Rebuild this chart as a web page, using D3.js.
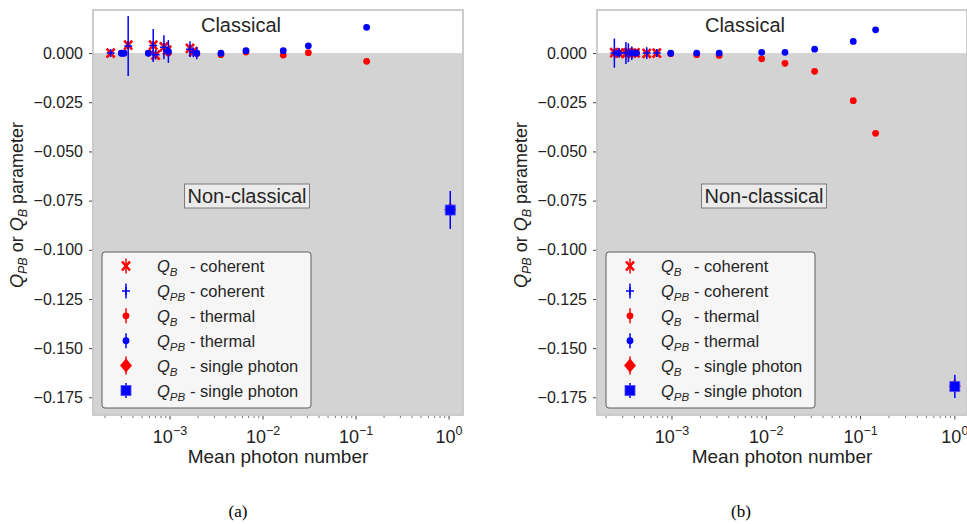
<!DOCTYPE html>
<html>
<head>
<meta charset="utf-8">
<script src="https://cdn.jsdelivr.net/npm/d3@7"></script>
<style>
  body { margin: 0; background: #fff; }
  svg { display: block; }
</style>
</head>
<body>
<script>
// panel (a) data
var cohN_a      = [2.3e-4, 3.55e-4, 6.6e-4, 7.0e-4, 8.6e-4, 9.3e-4, 1.64e-3, 1.78e-3];
var cohQB_a     = [0.0000, 0.0041, 0.0041, -0.0010, 0.0032, 0.0015, 0.0024, 0.0007];
var cohQBerr_a  = [0.0006, 0.0020, 0.0020, 0.0015, 0.0020, 0.0015, 0.0015, 0.0015];
var cohQPB_a    = [0.0000, 0.0036, 0.0038, -0.0008, 0.0030, 0.0010, 0.0020, 0.0004];
var cohQPBerr_a = [0.0008, 0.0152, 0.0084, 0.0025, 0.0061, 0.0020, 0.0040, 0.0025];
var thN_a       = [3.0e-4, 3.2e-4, 5.85e-4, 9.6e-4, 1.94e-3, 3.53e-3, 6.56e-3, 0.0165, 0.0307, 0.130];
var thQB_a      = [0.0000, 0.0000, 0.0000, 0.0000, -0.0002, -0.0008, 0.0005, -0.0010, 0.0002, -0.0042];
var thQBerr_a   = [0.0005, 0.0005, 0.0005, 0.0005, 0.0005, 0.0005, 0.0005, 0.0005, 0.0005, 0.0005];
var thQPB_a     = [-0.0001, -0.0001, -0.0001, 0.0008, -0.0001, -0.0001, 0.0012, 0.0012, 0.0037, 0.0131];
var thQPBerr_a  = [0.0005, 0.0005, 0.0005, 0.0058, 0.0030, 0.0005, 0.0005, 0.0005, 0.0005, 0.0005];
var spN_a = [1.03], spQB_a = [-0.0795], spQBerr_a = [0.0025], spQPB_a = [-0.0798], spQPBerr_a = [0.0097];

// panel (b) data
var cohN_b      = [2.45e-4, 2.75e-4, 3.25e-4, 3.45e-4, 3.75e-4, 4.1e-4, 5.4e-4, 6.9e-4];
var cohQB_b     = [0.0002, 0.0000, -0.0002, 0.0003, 0.0000, 0.0001, -0.0001, 0.0000];
var cohQBerr_b  = [0.0015, 0.0010, 0.0015, 0.0015, 0.0010, 0.0010, 0.0010, 0.0010];
var cohQPB_b    = [0.0000, 0.0001, 0.0000, 0.0002, -0.0001, 0.0000, 0.0000, 0.0001];
var cohQPBerr_b = [0.0074, 0.0025, 0.0056, 0.0048, 0.0034, 0.0020, 0.0030, 0.0020];
var thN_b       = [2.7e-4, 3.7e-4, 4.2e-4, 9.7e-4, 1.83e-3, 3.17e-3, 8.94e-3, 0.0158, 0.0326, 0.0837, 0.1445];
var thQB_b      = [0.0000, 0.0000, 0.0000, -0.0003, -0.0008, -0.0012, -0.0029, -0.0052, -0.0093, -0.0242, -0.0408];
var thQBerr_b   = [0.0005, 0.0005, 0.0005, 0.0005, 0.0005, 0.0005, 0.0005, 0.0005, 0.0005, 0.0005, 0.0005];
var thQPB_b     = [0.0000, 0.0000, 0.0000, -0.0001, 0.0000, 0.0000, 0.0004, 0.0004, 0.0020, 0.0059, 0.0118];
var thQPBerr_b  = [0.0005, 0.0005, 0.0005, 0.0005, 0.0005, 0.0005, 0.0005, 0.0005, 0.0005, 0.0005, 0.0005];
var spN_b = [1.0], spQB_b = [-0.1693], spQBerr_b = [0.0020], spQPB_b = [-0.1695], spQPBerr_b = [0.0059];

// ticks and labels
var yTicks = [0, -0.025, -0.05, -0.075, -0.1, -0.125, -0.15, -0.175];
var xMajor = [1e-3, 1e-2, 1e-1, 1];
var xMajorExp = ["\u22123", "\u22122", "\u22121", "0"];
var legendSub = ["B", "PB", "B", "PB", "B", "PB"];
var legendText = ["- coherent", "- coherent", "- thermal", "- thermal", "- single photon", "- single photon"];
var legendKind = ["x", "plus", "dot", "dot", "diamond", "square"];

var RED = "#ff0000", BLUE = "#0000ff";
var FONT = "'Liberation Sans', Arial, Helvetica, sans-serif";

var svg = d3.select("body").append("svg")
    .attr("width", 967).attr("height", 524)
    .style("font-family", FONT);

function mark(g, kind, color, cx, cy) {
  if (kind === "x") {
    g.append("path")
      .attr("d", "M" + (cx-4) + "," + (cy-4.5) + "L" + (cx+4) + "," + (cy+4.5) +
                 "M" + (cx-4) + "," + (cy+4.5) + "L" + (cx+4) + "," + (cy-4.5))
      .attr("stroke", color).attr("stroke-width", 2.6).attr("fill", "none");
  } else if (kind === "plus") {
    g.append("path")
      .attr("d", "M" + (cx-4) + "," + cy + "L" + (cx+4) + "," + cy +
                 "M" + cx + "," + (cy-4) + "L" + cx + "," + (cy+4))
      .attr("stroke", color).attr("stroke-width", 1.5).attr("fill", "none");
  } else if (kind === "dot") {
    g.append("circle").attr("cx", cx).attr("cy", cy).attr("r", 3.4).attr("fill", color);
  } else if (kind === "diamond") {
    g.append("path")
      .attr("d", "M" + cx + "," + (cy-7) + "L" + (cx+6) + "," + cy + "L" + cx + "," + (cy+7) + "L" + (cx-6) + "," + cy + "Z")
      .attr("fill", color);
  } else if (kind === "square") {
    g.append("rect").attr("x", cx-5).attr("y", cy-5).attr("width", 10).attr("height", 10)
      .attr("fill", color).attr("stroke", "#4d4dff").attr("stroke-width", 0.8);
  }
}

function drawSeries(g, x, y, N, Q, E, kind, color) {
  g.selectAll(null).data(d3.range(N.length)).join("line")
    .attr("x1", function(i) { return x(N[i]); })
    .attr("x2", function(i) { return x(N[i]); })
    .attr("y1", function(i) { return y(Q[i] - E[i]); })
    .attr("y2", function(i) { return y(Q[i] + E[i]); })
    .attr("stroke", color).attr("stroke-width", 1.5);
  N.forEach(function(n, i) { mark(g, kind, color, x(n), y(Q[i])); });
}

function panel(cfg) {
  var left = cfg.left, width = 370, top = 10, bottom = 415, right = left + width;
  var x = d3.scaleLog().domain(cfg.xdom).range([left, right]);
  var y = d3.scaleLinear().domain([-0.184, 0.0219]).range([bottom, top]);
  var g = svg.append("g");

  g.append("clipPath").attr("id", "clip" + cfg.tag)
    .append("rect").attr("x", left).attr("y", top).attr("width", width).attr("height", bottom - top);

  // background: white classical, grey non-classical
  g.append("rect").attr("x", left).attr("y", top).attr("width", width).attr("height", bottom - top).attr("fill", "#fff");
  g.append("rect").attr("x", left).attr("y", y(0)).attr("width", width).attr("height", bottom - y(0)).attr("fill", "#d3d3d3");

  // y axis
  var ya = g.append("g").attr("transform", "translate(" + left + ",0)")
    .call(d3.axisLeft(y).tickValues(yTicks).tickSize(4).tickPadding(6).tickFormat(d3.format(".3f")));
  ya.select(".domain").remove();
  ya.selectAll(".tick line").attr("stroke", "#444");
  ya.selectAll(".tick text").attr("font-family", FONT).attr("font-size", 16).attr("fill", "#222");

  // x axis: minor + major ticks on log scale
  var minor = [];
  for (var e = -4; e <= 0; e++) for (var m = 2; m <= 9; m++) {
    var v = m * Math.pow(10, e);
    if (v > cfg.xdom[0] && v < cfg.xdom[1]) minor.push(v);
  }
  g.selectAll(null).data(minor).join("line")
    .attr("x1", function(d) { return x(d); }).attr("x2", function(d) { return x(d); })
    .attr("y1", bottom + 1).attr("y2", bottom + 3).attr("stroke", "#555").attr("stroke-width", 0.8);
  g.selectAll(null).data(xMajor).join("line")
    .attr("x1", function(d) { return x(d); }).attr("x2", function(d) { return x(d); })
    .attr("y1", bottom + 1).attr("y2", bottom + 4.5).attr("stroke", "#444").attr("stroke-width", 1);
  xMajor.forEach(function(v, i) {
    var t = g.append("text").attr("x", x(v)).attr("y", 443).attr("text-anchor", "middle")
      .attr("font-size", 18).attr("fill", "#222");
    t.append("tspan").text("10");
    t.append("tspan").attr("dy", -8).attr("font-size", 12.5).text(xMajorExp[i]);
  });

  // data
  var pts = g.append("g").attr("clip-path", "url(#clip" + cfg.tag + ")");
  var d = cfg.data;
  drawSeries(pts, x, y, d.cohN, d.cohQB, d.cohQBerr, "x", RED);
  drawSeries(pts, x, y, d.cohN, d.cohQPB, d.cohQPBerr, "plus", BLUE);
  drawSeries(pts, x, y, d.thN, d.thQB, d.thQBerr, "dot", RED);
  drawSeries(pts, x, y, d.thN, d.thQPB, d.thQPBerr, "dot", BLUE);
  drawSeries(pts, x, y, d.spN, d.spQB, d.spQBerr, "diamond", RED);
  drawSeries(pts, x, y, d.spN, d.spQPB, d.spQPBerr, "square", BLUE);

  // frame
  g.append("rect").attr("x", left).attr("y", top).attr("width", width).attr("height", bottom - top)
    .attr("fill", "none").attr("stroke", "#c8c8c8").attr("stroke-width", 1.8);

  // region labels
  g.append("text").attr("x", left + 148).attr("y", 32).attr("text-anchor", "middle")
    .attr("font-size", 20).attr("fill", "#262626").text("Classical");
  var nc = g.append("g");
  var ncText = nc.append("text").attr("x", left + cfg.ncx).attr("y", 203).attr("text-anchor", "middle")
    .attr("font-size", 20).attr("fill", "#262626").text("Non-classical");
  var bb = ncText.node().getBBox();
  nc.insert("rect", "text").attr("x", bb.x - 3).attr("y", bb.y - 1).attr("width", bb.width + 6).attr("height", bb.height + 2)
    .attr("fill", "#ebebeb").attr("stroke", "#7a7a7a").attr("stroke-width", 1);

  // legend
  var lg = g.append("g").attr("transform", "translate(" + (left + 9) + ",252)");
  lg.append("rect").attr("width", 209).attr("height", 156).attr("rx", 3)
    .attr("fill", "#f6f6f6").attr("stroke", "#5e5e5e").attr("stroke-width", 1);
  legendKind.forEach(function(k, i) {
    var cy = 14 + i * 24.9;
    var col = (i % 2 === 0) ? RED : BLUE;
    var half = (k === "diamond") ? 9 : 7.5;
    lg.append("line").attr("x1", 24).attr("x2", 24).attr("y1", cy - half).attr("y2", cy + half)
      .attr("stroke", col).attr("stroke-width", 1.5);
    mark(lg, k, col, 24, cy);
    var t = lg.append("text").attr("x", 55).attr("y", cy + 6).attr("font-size", 16.5).attr("fill", "#262626");
    t.append("tspan").attr("font-style", "italic").text("Q");
    t.append("tspan").attr("font-style", "italic").attr("font-size", 11.5).attr("dy", 4).text(legendSub[i]);
    lg.append("text").attr("x", 88).attr("y", cy + 6).attr("font-size", 16.5).attr("fill", "#262626")
      .text(legendText[i]);
  });

  // axis titles
  var yl = g.append("text").attr("transform", "translate(" + (left - 70) + ",205) rotate(-90)")
    .attr("text-anchor", "middle").attr("font-size", 18).attr("fill", "#222");
  yl.append("tspan").attr("font-style", "italic").text("Q");
  yl.append("tspan").attr("font-style", "italic").attr("font-size", 12.5).attr("dy", 4).text("PB");
  yl.append("tspan").attr("dy", -4).text(" or ");
  yl.append("tspan").attr("font-style", "italic").text("Q");
  yl.append("tspan").attr("font-style", "italic").attr("font-size", 12.5).attr("dy", 4).text("B");
  yl.append("tspan").attr("dy", -4).text(" parameter");

  g.append("text").attr("x", left + width / 2).attr("y", 463).attr("text-anchor", "middle")
    .attr("font-size", 19).attr("fill", "#222").text("Mean photon number");

  g.append("text").attr("x", cfg.capX).attr("y", 517).attr("text-anchor", "middle")
    .attr("font-family", "'Liberation Serif', 'Times New Roman', serif")
    .attr("font-size", 17).attr("fill", "#000").text(cfg.tag);
}

panel({
  left: 93, xdom: [Math.pow(10, -3.828), Math.pow(10, 0.15)], tag: "(a)", capX: 238, ncx: 154,
  data: { cohN: cohN_a, cohQB: cohQB_a, cohQBerr: cohQBerr_a, cohQPB: cohQPB_a, cohQPBerr: cohQPBerr_a,
          thN: thN_a, thQB: thQB_a, thQBerr: thQBerr_a, thQPB: thQPB_a, thQPBerr: thQPBerr_a,
          spN: spN_a, spQB: spQB_a, spQBerr: spQBerr_a, spQPB: spQPB_a, spQPBerr: spQPBerr_a }
});
panel({
  left: 597, xdom: [Math.pow(10, -3.795), Math.pow(10, 0.129)], tag: "(b)", capX: 741, ncx: 167,
  data: { cohN: cohN_b, cohQB: cohQB_b, cohQBerr: cohQBerr_b, cohQPB: cohQPB_b, cohQPBerr: cohQPBerr_b,
          thN: thN_b, thQB: thQB_b, thQBerr: thQBerr_b, thQPB: thQPB_b, thQPBerr: thQPBerr_b,
          spN: spN_b, spQB: spQB_b, spQBerr: spQBerr_b, spQPB: spQPB_b, spQPBerr: spQPBerr_b }
});
</script>
</body>
</html>
